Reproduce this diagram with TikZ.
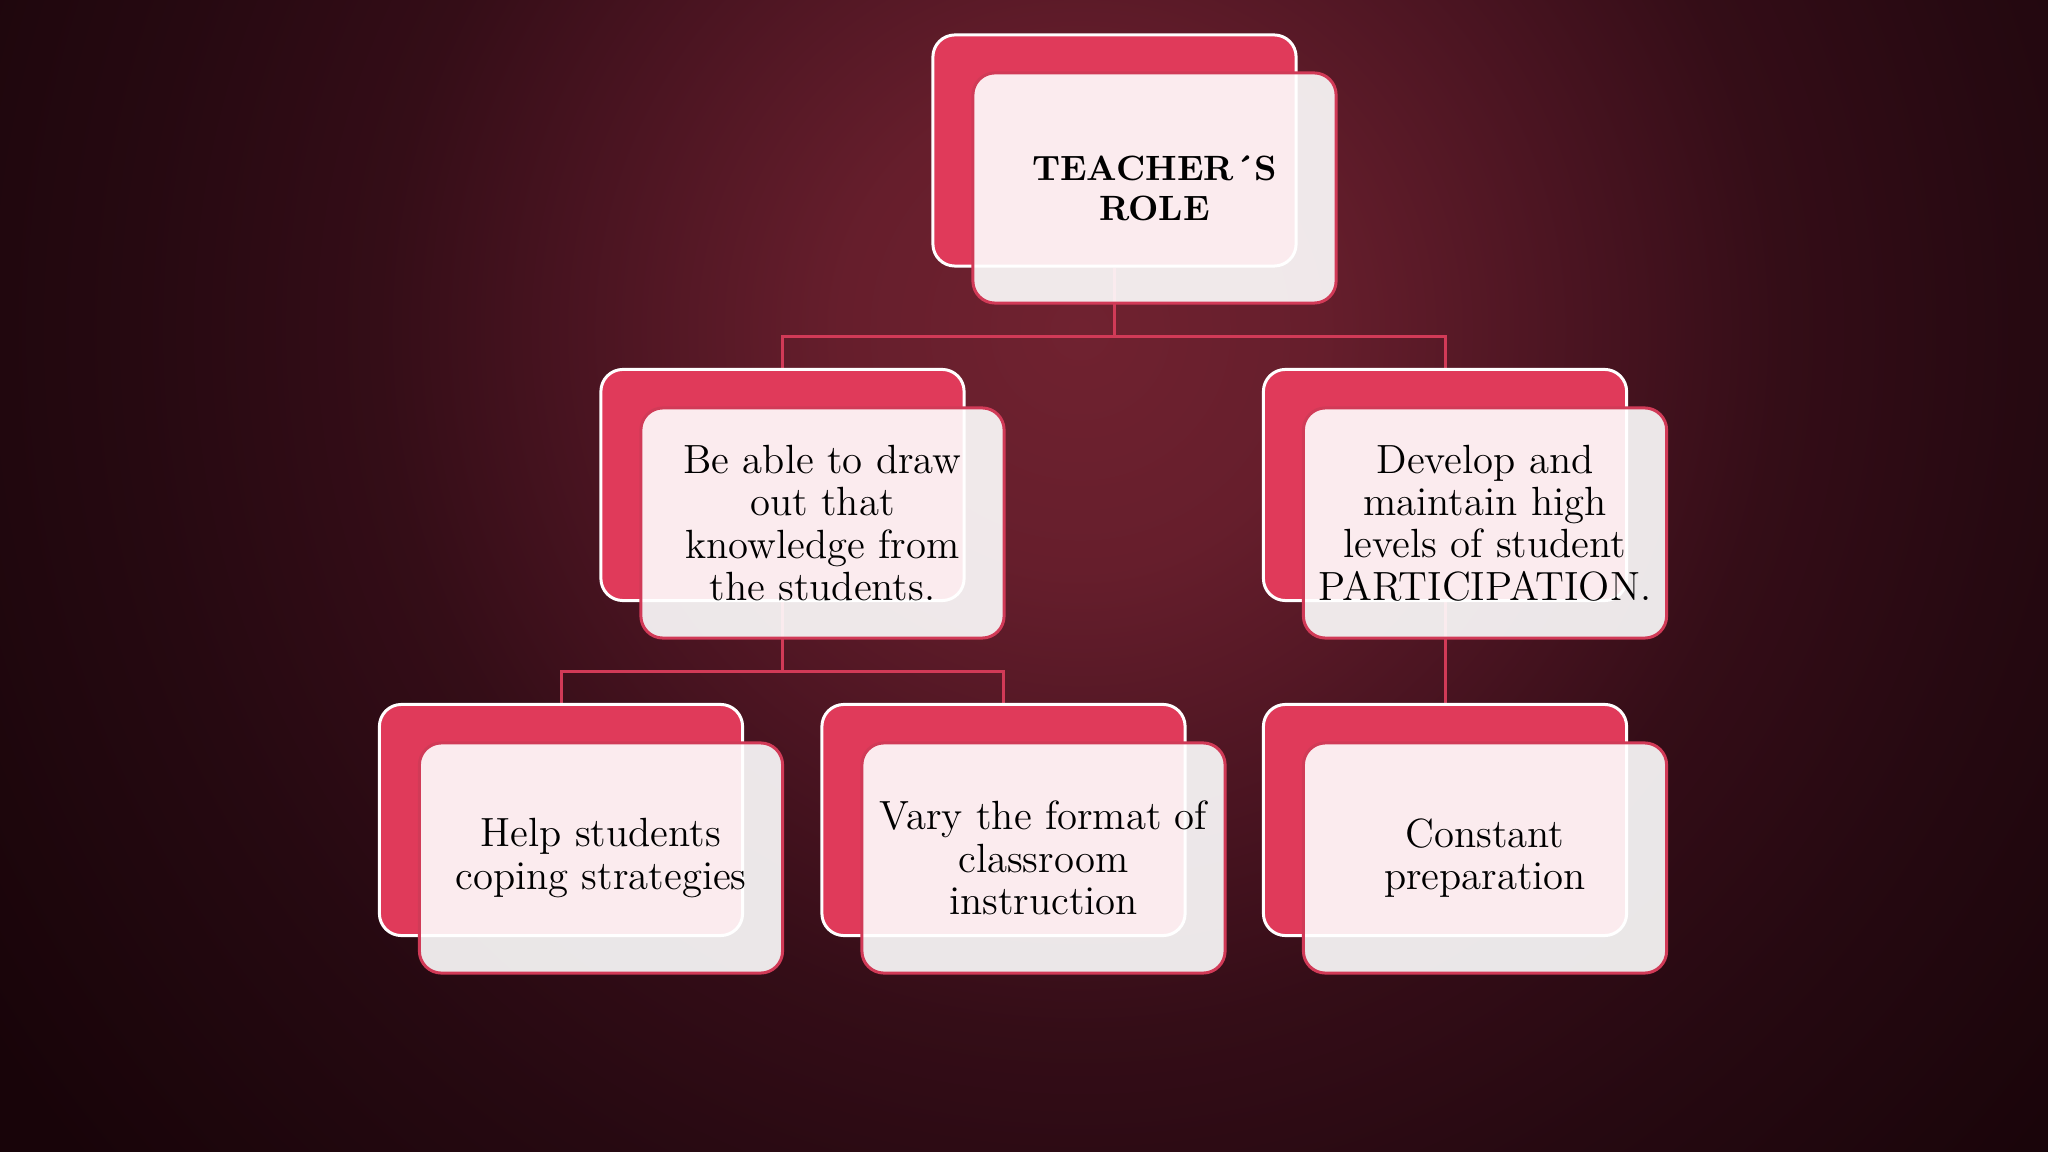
\documentclass[tikz,border=0pt]{standalone}
\usetikzlibrary{calc}
\definecolor{bgA}{HTML}{702230}
\definecolor{bgB}{HTML}{661E2C}
\definecolor{bgC}{HTML}{4A1421}
\definecolor{bgD}{HTML}{340D17}
\definecolor{bgE}{HTML}{260911}
\definecolor{bgF}{HTML}{180409}
\definecolor{boxred}{HTML}{E03A5A}
\definecolor{linered}{HTML}{D13A57}
\pgfdeclareradialshading{bgshade}{\pgfpoint{0bp}{0bp}}{color(0bp)=(bgA); color(4bp)=(bgB); color(8.3bp)=(bgC); color(11.7bp)=(bgD); color(15.8bp)=(bgE); color(21.7bp)=(bgF); color(50bp)=(bgF)}
\pgfdeclarelayer{bg}\pgfdeclarelayer{lines}\pgfsetlayers{bg,lines,main}
\tikzset{
  backbox/.style={draw=white, line width=0.85pt, fill=boxred, rounded corners=0.22cm,
    minimum width=3.63cm, minimum height=2.31cm, inner sep=0pt},
  frontbox/.style={draw=linered, line width=0.85pt, fill=white, fill opacity=0.9,
    text opacity=1, rounded corners=0.22cm, minimum width=3.63cm, minimum height=2.3cm,
    inner sep=0pt, align=center, text=black, font=\fontsize{11.6}{12}\selectfont},
  titletext/.style={font=\fontsize{10}{11.4}\selectfont\bfseries},
  conn/.style={draw=linered, line width=0.85pt}
}
\begin{document}
\begin{tikzpicture}[x=0.01cm,y=-0.01cm]
\useasboundingbox (0,0) rectangle (2048,1152);
\begin{pgfonlayer}{bg}
\begin{scope}
\clip (0,0) rectangle (2048,1152);
\shade[shading=bgshade] (1080,330) circle[radius=1500];
\end{scope}
\end{pgfonlayer}
% top
\node[backbox] (b0) at (1114.5,150.5) {};
\node[frontbox,titletext] (f0) at (1154.5,188) {TEACHER´S\\ROLE};
% middle
\node[backbox] (b1) at (782.5,485) {};
\node[frontbox] (f1) at (822.5,523) {Be able to draw\\out that\\knowledge from\\the students.};
\node[backbox] (b2) at (1445,485) {};
\node[frontbox] (f2) at (1485,523) {Develop and\\maintain high\\levels of student\\PARTICIPATION.};
% bottom
\node[backbox] (b3) at (561,820) {};
\node[frontbox] (f3) at (601,858) {Help students\\coping strategies};
\node[backbox] (b4) at (1003.5,820) {};
\node[frontbox] (f4) at (1043.5,858) {Vary the format of\\classroom\\instruction};
\node[backbox] (b5) at (1445,820) {};
\node[frontbox] (f5) at (1485,858) {Constant\\preparation};
% connectors
\coordinate (j0) at ($(f0.south)!0.5!(b1.north)$);
\coordinate (j1) at ($(f1.south)!0.5!(b3.north)$);
\begin{pgfonlayer}{lines}
\draw[conn] (b0.south) -- (b0.south |- j0) -| (b1.north);
\draw[conn] (b0.south |- j0) -| (b2.north);
\draw[conn] (b1.south) -- (b1.south |- j1) -| (b3.north);
\draw[conn] (b1.south |- j1) -| (b4.north);
\draw[conn] (b2.south) -- (b5.north);
\end{pgfonlayer}
\end{tikzpicture}
\end{document}
